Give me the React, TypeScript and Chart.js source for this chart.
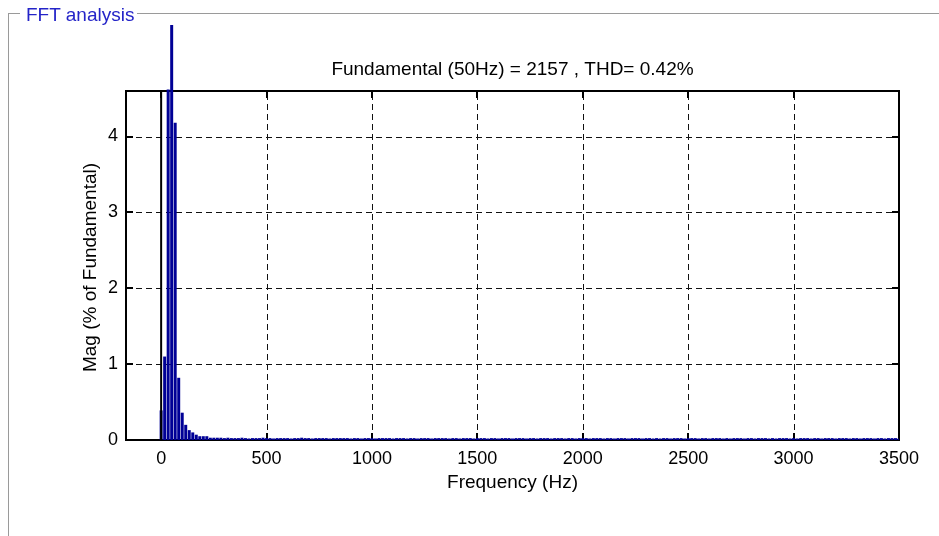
import React, { useEffect, useRef } from "react";
import { Chart, registerables } from "chart.js";

Chart.register(...registerables);

// ---- data ----
const binHz = 50 / 3; // FFT bin spacing (Hz)
const magLow = [
  0.39, 1.1, 4.62, 100, 4.18, 0.82, 0.36, 0.2, 0.13, 0.1, 0.07, 0.05, 0.05,
  0.05, 0.03, 0.03, 0.03, 0.03, 0.025, 0.03, 0.025,
];
const magTail = [
  0.025, 0.025, 0.03, 0.025, 0.02, 0.025, 0.025, 0.025, 0.03, 0.025,
  0.025, 0.02, 0.025, 0.025, 0.025, 0.025, 0.02, 0.025, 0.025, 0.03,
  0.025, 0.025, 0.02, 0.025, 0.025, 0.025, 0.025, 0.02, 0.025, 0.025,
  0.025, 0.025, 0.025, 0.02, 0.025, 0.025, 0.02, 0.025, 0.025, 0.025,
  0.02, 0.025, 0.025, 0.025, 0.025, 0.02, 0.025, 0.025, 0.025, 0.02,
  0.025, 0.025, 0.02, 0.025, 0.025, 0.025, 0.02, 0.025, 0.025, 0.025,
  0.025, 0.02, 0.025, 0.025, 0.02, 0.025, 0.025, 0.025, 0.02, 0.025,
  0.025, 0.025, 0.02, 0.025, 0.025, 0.02, 0.025, 0.025, 0.025, 0.02,
  0.025, 0.025, 0.025, 0.02, 0.025, 0.025, 0.02, 0.025, 0.025, 0.025,
  0.02, 0.025, 0.025, 0.025, 0.02, 0.025, 0.025, 0.02, 0.025, 0.025,
  0.025, 0.02, 0.025, 0.025, 0.025, 0.02, 0.025, 0.025, 0.02, 0.025,
  0.025, 0.025, 0.02, 0.025, 0.025, 0.025, 0.02, 0.025, 0.025, 0.02,
  0.025, 0.02, 0.025, 0.025, 0.02, 0.025, 0.025, 0.025, 0.02, 0.025,
  0.025, 0.025, 0.02, 0.025, 0.025, 0.02, 0.025, 0.025, 0.025, 0.02,
  0.025, 0.02, 0.025, 0.025, 0.025, 0.02, 0.025, 0.025, 0.02, 0.025,
  0.025, 0.025, 0.02, 0.025, 0.02, 0.025, 0.025, 0.025, 0.02, 0.025,
  0.02, 0.025, 0.025, 0.025, 0.02, 0.025, 0.025, 0.02, 0.025, 0.025,
  0.025, 0.02, 0.025, 0.025, 0.025, 0.02, 0.025, 0.025, 0.02, 0.025,
  0.025, 0.025, 0.02, 0.025, 0.025, 0.02, 0.025, 0.025, 0.025, 0.02,
];
const magnitudes = [...magLow, ...magTail];
const frequencies = magnitudes.map((_, k) => k * binHz);

const xTickValues = [0, 500, 1000, 1500, 2000, 2500, 3000, 3500];
const yTickValues = [0, 1, 2, 3, 4];
const xMin = -166.67;
const xMax = 3500;
const yMin = 0;
const yMax = 4.6;

const titleText = "Fundamental (50Hz) = 2157 , THD= 0.42%";
const xTitle = "Frequency (Hz)";
const yTitle = "Mag (% of Fundamental)";
const panelTitle = "FFT analysis";

const FONT_FAMILY = "'Liberation Sans', Arial, Helvetica, sans-serif";
const BAR_COLOR = "#000096";

const framePlugin = {
  id: "matlabFrame",
  beforeDatasetsDraw(chart: any) {
    const { ctx, chartArea: a, scales } = chart;
    const xs = scales.x;
    const ys = scales.y;
    ctx.save();
    // dashed grid
    ctx.strokeStyle = "#111";
    ctx.lineWidth = 1;
    ctx.setLineDash([6, 4]);
    xs.ticks.forEach((t: any) => {
      const px = Math.round(xs.getPixelForValue(t.value)) + 0.5;
      if (px > a.left + 2 && px < a.right - 2) {
        ctx.beginPath();
        ctx.moveTo(px, a.bottom);
        ctx.lineTo(px, a.top);
        ctx.stroke();
      }
    });
    ys.ticks.forEach((t: any) => {
      const py = Math.round(ys.getPixelForValue(t.value)) + 0.5;
      if (py > a.top + 2 && py < a.bottom - 2) {
        ctx.beginPath();
        ctx.moveTo(a.left, py);
        ctx.lineTo(a.right, py);
        ctx.stroke();
      }
    });
    ctx.setLineDash([]);
    // box
    ctx.strokeStyle = "#000";
    ctx.lineWidth = 2;
    ctx.strokeRect(a.left, a.top, a.right - a.left, a.bottom - a.top);
    // inward tick marks
    const L = 7;
    xs.ticks.forEach((t: any) => {
      const px = Math.round(xs.getPixelForValue(t.value));
      ctx.beginPath();
      ctx.moveTo(px, a.bottom);
      ctx.lineTo(px, a.bottom - L);
      ctx.moveTo(px, a.top);
      ctx.lineTo(px, a.top + L);
      ctx.stroke();
    });
    ys.ticks.forEach((t: any) => {
      const py = Math.round(ys.getPixelForValue(t.value));
      ctx.beginPath();
      ctx.moveTo(a.left, py);
      ctx.lineTo(a.left + L, py);
      ctx.moveTo(a.right, py);
      ctx.lineTo(a.right - L, py);
      ctx.stroke();
    });
    ctx.restore();
  },
  afterDraw(chart: any) {
    const { ctx, chartArea: a } = chart;
    ctx.save();
    ctx.fillStyle = "#000";
    ctx.font = `19px ${FONT_FAMILY}`;
    ctx.textAlign = "center";
    ctx.textBaseline = "alphabetic";
    const cx = (a.left + a.right) / 2;
    ctx.fillText(titleText, cx, a.top - 16);
    ctx.fillText(xTitle, cx, a.bottom + 48);
    ctx.translate(96, (a.top + a.bottom) / 2 + 2);
    ctx.rotate(-Math.PI / 2);
    ctx.fillText(yTitle, 0, 0);
    ctx.restore();
  },
};

export default function App() {
  const canvasRef = useRef<HTMLCanvasElement | null>(null);

  useEffect(() => {
    const canvas = canvasRef.current;
    if (!canvas) return;
    const tickFont = { family: FONT_FAMILY, size: 18 };
    const chart = new Chart(canvas, {
      type: "bar",
      data: {
        datasets: [
          {
            type: "line",
            data: [
              { x: 0, y: yMin },
              { x: 0, y: yMax },
            ],
            borderColor: "#000",
            borderWidth: 2,
            pointRadius: 0,
            order: 0,
          } as any,
          {
            type: "bar",
            data: frequencies.map((f, i) => ({ x: f, y: magnitudes[i] })),
            backgroundColor: BAR_COLOR,
            borderWidth: 0,
            barPercentage: 0.85,
            categoryPercentage: 1,
            clip: { left: 0, top: 66, right: 0, bottom: 0 },
            order: 1,
          } as any,
        ],
      },
      options: {
        responsive: false,
        animation: false,
        devicePixelRatio: 1,
        layout: { padding: { left: 0, top: 91, right: 40, bottom: 0 } },
        plugins: {
          legend: { display: false },
          tooltip: { enabled: false },
          title: { display: false },
        },
        scales: {
          x: {
            type: "linear",
            min: xMin,
            max: xMax,
            offset: false,
            grid: { display: false, drawTicks: false },
            border: { display: false },
            ticks: {
              autoSkip: false,
              maxRotation: 0,
              padding: 8,
              color: "#000",
              font: tickFont,
              callback: (v: any) => String(v),
            },
            afterBuildTicks: (s: any) => {
              s.ticks = xTickValues.map((v) => ({ value: v }));
            },
            afterFit: (s: any) => {
              s.height = 96;
            },
          },
          y: {
            type: "linear",
            min: yMin,
            max: yMax,
            grid: { display: false, drawTicks: false },
            border: { display: false },
            ticks: {
              autoSkip: false,
              padding: 8,
              color: "#000",
              font: tickFont,
              callback: (v: any) => String(v),
            },
            afterBuildTicks: (s: any) => {
              s.ticks = yTickValues.map((v) => ({ value: v }));
            },
            afterFit: (s: any) => {
              s.width = 126;
            },
          },
        },
      } as any,
      plugins: [framePlugin],
    });
    return () => chart.destroy();
  }, []);

  return (
    <div
      style={{
        position: "absolute",
        left: 0,
        top: 0,
        width: 939,
        height: 536,
        background: "#fff",
        overflow: "hidden",
      }}
    >
      <canvas
        ref={canvasRef}
        width={939}
        height={536}
        style={{ position: "absolute", left: 0, top: 0 }}
      />
      <div
        style={{
          position: "absolute",
          left: 8,
          top: 13,
          width: 931,
          height: 523,
          borderTop: "1px solid #9a9a9a",
          borderLeft: "1px solid #9a9a9a",
          boxSizing: "border-box",
        }}
      />
      <span
        style={{
          position: "absolute",
          left: 20,
          top: 5,
          padding: "0 3px 0 6px",
          background: "#fff",
          color: "#2424c8",
          fontFamily: FONT_FAMILY,
          fontSize: 19,
          lineHeight: "19px",
          whiteSpace: "nowrap",
        }}
      >
        {panelTitle}
      </span>
    </div>
  );
}
